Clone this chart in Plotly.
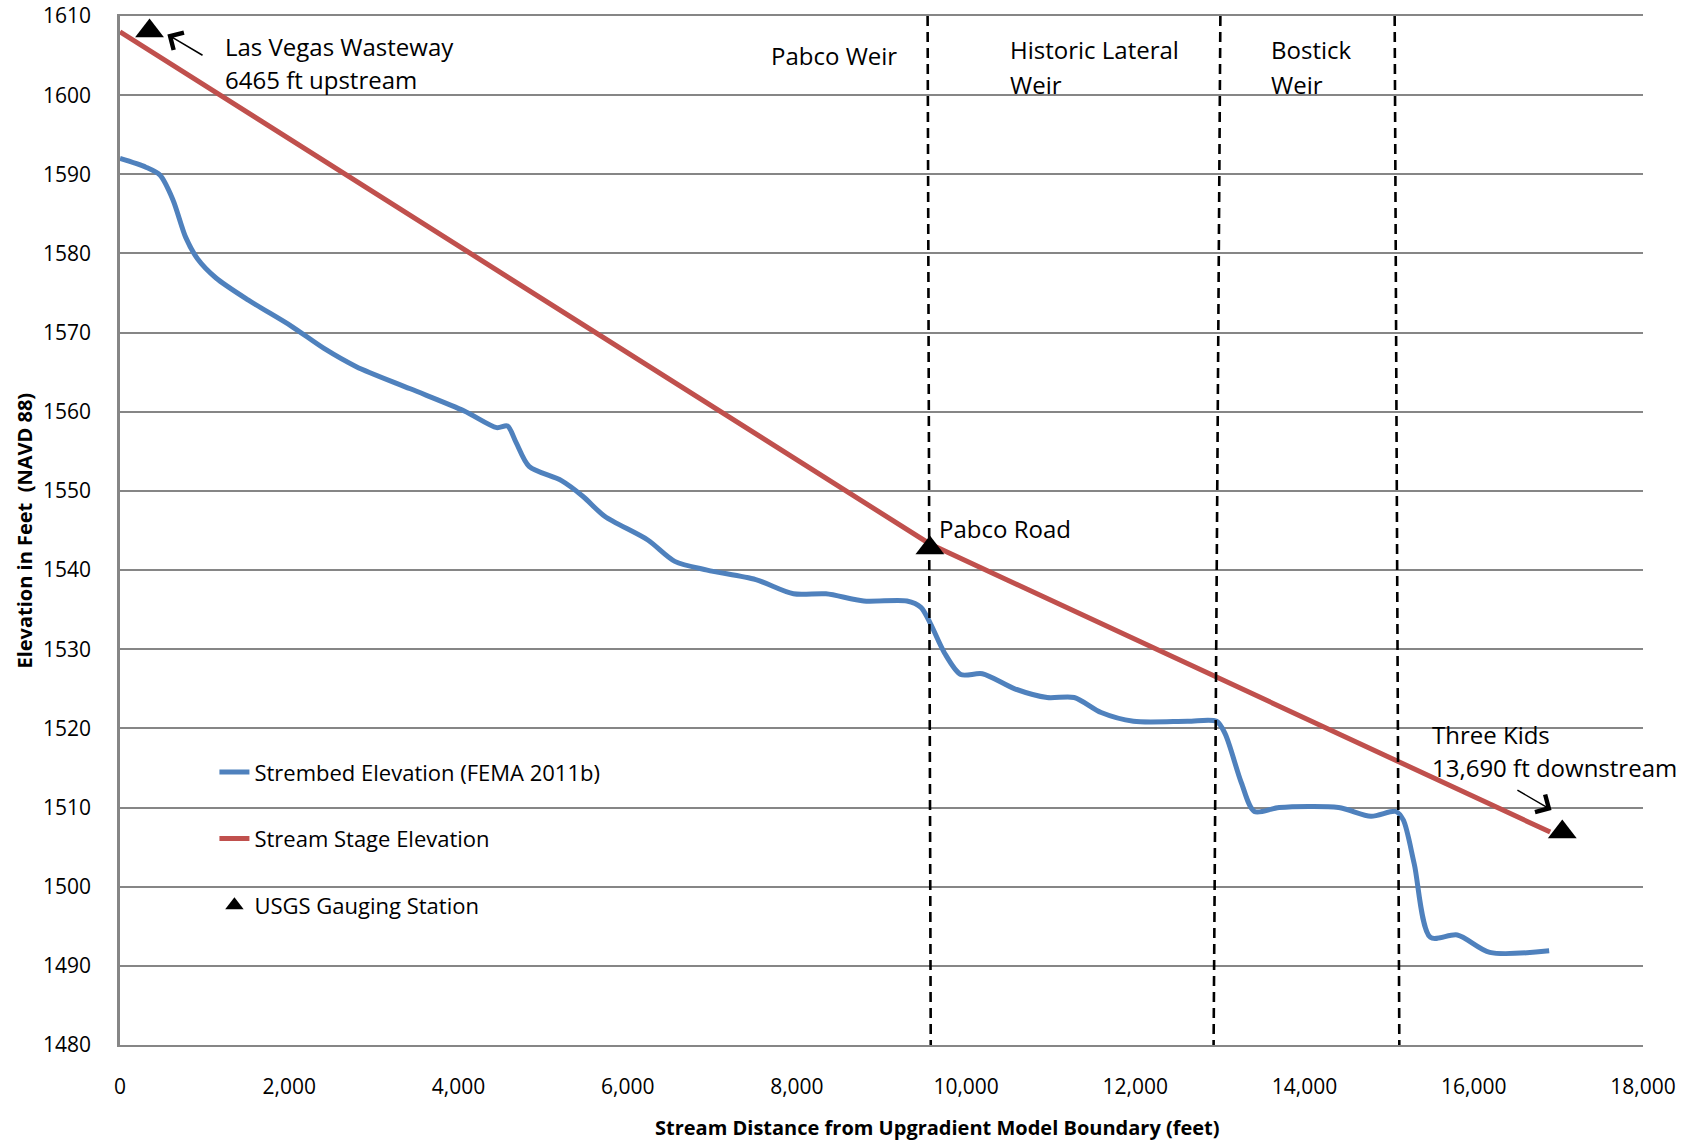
import plotly.graph_objects as go

# ---- data ----
bed_x = [0, 306, 472, 625, 778, 918, 1135, 1518, 2028, 2411, 2793, 3431, 4069, 4452, 4580,
         4682, 4835, 5218, 5473, 5728, 6238, 6557, 6940, 7514, 7960, 8343, 8790, 9300, 9466,
         9580, 9746, 9937, 10192, 10575, 10958, 11277, 11596, 11978, 12616, 12960, 13062,
         13254, 13407, 13700, 14402, 14785, 15079, 15168, 15296, 15487, 15806, 16189, 16891]
bed_y = [1592.0, 1590.9, 1589.9, 1586.8, 1582.0, 1579.3, 1576.9, 1574.1, 1570.8, 1568.0,
         1565.7, 1562.9, 1560.1, 1558.0, 1558.2, 1556.1, 1553.1, 1551.3, 1549.3, 1546.8,
         1543.8, 1541.1, 1540.0, 1538.8, 1537.0, 1537.0, 1536.1, 1536.1, 1535.3, 1533.2,
         1529.5, 1526.8, 1526.9, 1525.0, 1523.9, 1523.9, 1522.0, 1520.9, 1520.9, 1520.9,
         1519.3, 1513.1, 1509.5, 1510.0, 1510.0, 1508.9, 1509.5, 1508.4, 1502.9, 1493.6,
         1493.9, 1491.7, 1491.9]

stage_x = [0, 9572, 16903]
stage_y = [1608.0, 1543.3, 1506.9]

gauge_x = [349, 9572, 17046]
gauge_y = [1608.1, 1542.8, 1506.9]

weir_pabco_x = [9545, 9582]
weir_historic_x = [13005, 12925]
weir_bostick_x = [15065, 15120]
weir_y = [1610, 1480]

x_ticks = [0, 2000, 4000, 6000, 8000, 10000, 12000, 14000, 16000, 18000]
y_ticks = list(range(1480, 1611, 10))

FONT = "Open Sans"
GRID = "#868686"

fig = go.Figure()

fig.add_trace(go.Scatter(
    x=bed_x, y=bed_y, mode="lines", name="Strembed Elevation (FEMA 2011b)",
    line=dict(color="#4F81BD", width=5, shape="spline", smoothing=0.8),
    legendgroup="a"))
fig.add_trace(go.Scatter(
    x=stage_x, y=stage_y, mode="lines", name="Stream Stage Elevation",
    line=dict(color="#C0504D", width=5), legendgroup="b"))

for wx in (weir_pabco_x, weir_historic_x, weir_bostick_x):
    fig.add_trace(go.Scatter(
        x=wx, y=weir_y, mode="lines", showlegend=False, hoverinfo="skip",
        line=dict(color="black", width=2.6, dash="10px,6px"), cliponaxis=False))

fig.add_trace(go.Scatter(
    x=gauge_x, y=gauge_y, mode="markers", name="USGS Gauging Station",
    marker=dict(symbol="triangle-up", size=25, color="black"),
    legendgroup="c", cliponaxis=False))

ann = dict(font=dict(family=FONT, size=24, color="black"), showarrow=False,
           xref="x", yref="y", yanchor="middle")
texts = [
    ("Las Vegas Wasteway", 1223, 1606.16, "left"),
    ("6465 ft upstream", 1223, 1601.93, "left"),
    ("Pabco Weir", 9212, 1605.06, "right"),
    ("Historic Lateral", 10500, 1605.74, "left"),
    ("Weir", 10500, 1601.38, "left"),
    ("Bostick", 13576, 1605.74, "left"),
    ("Weir", 13576, 1601.38, "left"),
    ("Pabco Road", 9658, 1545.2, "left"),
    ("Three Kids", 15477, 1519.26, "left"),
    ("13,690 ft downstream", 15477, 1515.03, "left"),
]
annotations = [dict(ann, text=t, x=x, y=y, xanchor=xa) for t, x, y, xa in texts]

# arrows
for hx, hy, tx, ty in [(560, 1607.66, 993, 1604.93), (16919, 1509.7, 16498, 1512.3)]:
    annotations.append(dict(x=hx, y=hy, ax=tx, ay=ty, xref="x", yref="y", axref="x", ayref="y",
                            text="", showarrow=True, arrowhead=4, arrowsize=2.6,
                            arrowwidth=1.5, arrowcolor="black"))

# axis titles
annotations.append(dict(text="<b>Stream Distance from Upgradient Model Boundary (feet)</b>",
                        xref="paper", yref="paper", x=0.5365, y=-0.0797, xanchor="center",
                        yanchor="middle", showarrow=False,
                        font=dict(family=FONT, size=20, color="black")))
annotations.append(dict(text="<b>Elevation in Feet \u00a0(NAVD 88)</b>",
                        xref="paper", yref="paper", x=-0.063, y=0.5, xanchor="center",
                        yanchor="middle", textangle=-90, showarrow=False,
                        font=dict(family=FONT, size=20, color="black")))

fig.update_layout(
    width=1693, height=1143,
    margin=dict(l=120, r=50, t=16, b=98, autoexpand=False),
    paper_bgcolor="white", plot_bgcolor="white",
    font=dict(family=FONT, size=21, color="black"),
    annotations=annotations,
    showlegend=True,
    legend=dict(x=0.062, y=0.2855, xanchor="left", yanchor="top",
                bgcolor="rgba(0,0,0,0)", font=dict(family=FONT, size=22, color="black"),
                tracegroupgap=35, traceorder="grouped"),
    xaxis=dict(range=[0, 18000], tickvals=x_ticks, tickformat=",", showgrid=False,
               showline=True, mirror=True, linecolor=GRID, linewidth=2.2, zeroline=False,
               automargin=False, ticks="", ticklabelstandoff=22, tickfont=dict(size=21)),
    yaxis=dict(range=[1480, 1610], tickvals=y_ticks, showgrid=True, gridcolor=GRID,
               gridwidth=2, showline=True, linecolor=GRID, linewidth=2.5, zeroline=False,
               automargin=False, ticks="", ticklabelstandoff=22, tickfont=dict(size=21)),
)

fig.write_html("out.html", config={"displayModeBar": False},
               post_script="document.body.style.margin='0';document.body.style.padding='0';")
